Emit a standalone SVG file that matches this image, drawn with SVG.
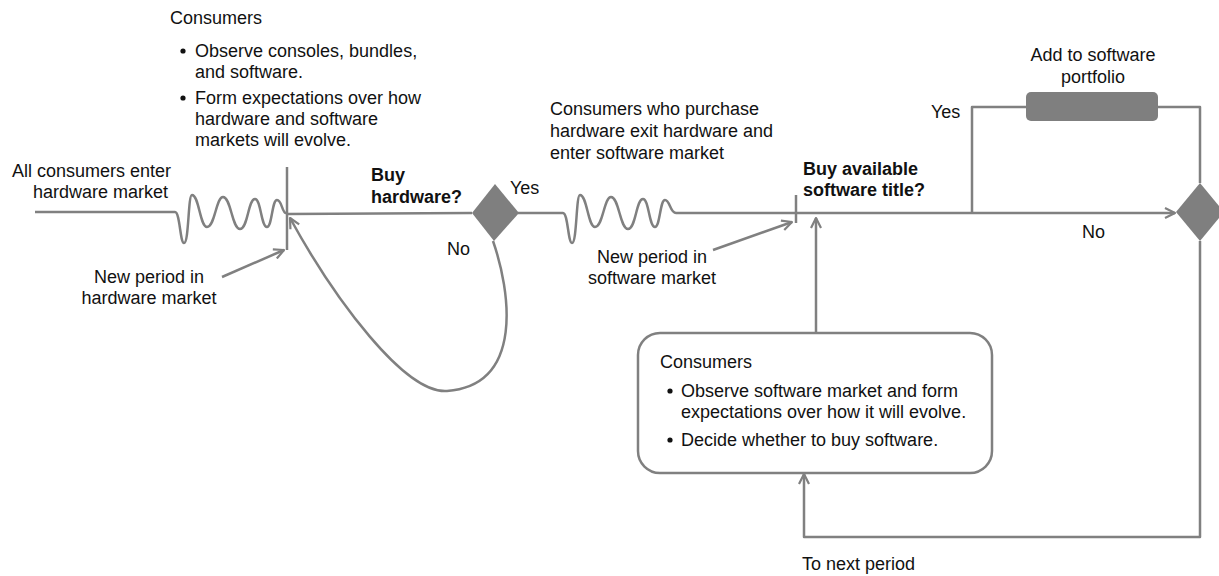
<svg xmlns="http://www.w3.org/2000/svg" width="1219" height="576" viewBox="0 0 1219 576">
  <style>
    .ln { fill: none; stroke: #808080; stroke-width: 2.5; stroke-linejoin: round; }
    .t { font-family: "Liberation Sans", Arial, Helvetica, sans-serif; font-size: 18px; fill: #111; }
    .b { font-weight: bold; }
    .dot { fill: #111; }
    .shape { fill: #7f7f7f; }
    .box { fill: #fff; stroke: #808080; stroke-width: 2.5; }
  </style>
  <defs>
    <marker id="arrow" viewBox="0 0 12 12" refX="11" refY="6" markerWidth="12" markerHeight="12" markerUnits="userSpaceOnUse" orient="auto">
      <path d="M1,1 L11,6 L1,11" fill="none" stroke="#808080" stroke-width="2.2" stroke-linejoin="round"/>
    </marker>
  </defs>
  <rect width="1219" height="576" fill="#fff"/>

  <!-- connectors -->
  <g id="connectors">
    <!-- entry into hardware market with delay squiggle -->
    <path class="ln" d="M35,212 H175 C180,212 180,243 184,243 C189,243 188,195 192,195 C199,195 200,227 207,227 C215,227 216,197 223,197 C231,197 232,229 240,229 C248,229 248,199 255,199 C261,199 261,227 267,227 C272,227 272,200 277,200 C282,200 282,213 286,213"/>
    <!-- hardware period tick -->
    <path class="ln" d="M287,167 V250"/>
    <!-- to buy-hardware decision -->
    <path class="ln" d="M287,214 L472,213"/>
    <!-- new period in hardware market -->
    <path class="ln" d="M222,277 L284,250" marker-end="url(#arrow)"/>
    <!-- no: loop back to hardware market -->
    <path class="ln" d="M493,241 C510,290 525,385 447,391 C405,394 335,300 290,218" marker-end="url(#arrow)"/>
    <!-- yes: into software market with delay squiggle -->
    <path class="ln" d="M518,213 H563 C568,213 568,243 572,243 C577,243 576,195 580,195 C587,195 588,227 595,227 C603,227 604,197 611,197 C619,197 620,229 628,229 C636,229 636,199 643,199 C649,199 649,227 655,227 C660,227 660,200 665,200 C670,200 670,213 676,213 H1175" marker-end="url(#arrow)"/>
    <!-- software period tick -->
    <path class="ln" d="M796,195 V223"/>
    <!-- new period in software market -->
    <path class="ln" d="M713,250 L792,222" marker-end="url(#arrow)"/>
    <!-- consumer box up to software decision -->
    <path class="ln" d="M816,333 V218" marker-end="url(#arrow)"/>
    <!-- yes branch via portfolio -->
    <path class="ln" d="M972,213 V107 H1026"/>
    <path class="ln" d="M1158,107 H1200 V183"/>
    <!-- to next period -->
    <path class="ln" d="M1200,241 V537 H804 V474" marker-end="url(#arrow)"/>
  </g>

  <!-- hardware decision -->
  <g id="hw-decision">
    <polygon class="shape" points="472,213 495,184 519,213 494,241"/>
    <text class="t b" x="371" y="181">Buy</text>
    <text class="t b" x="371" y="203">hardware?</text>
  </g>

  <!-- software decision -->
  <g id="sw-decision">
    <polygon class="shape" points="1176,212 1200,183 1224,212 1200,241"/>
    <text class="t b" x="803" y="175">Buy available</text>
    <text class="t b" x="803" y="196">software title?</text>
  </g>

  <!-- portfolio step -->
  <g id="portfolio">
    <rect class="shape" x="1026" y="92" width="132" height="29" rx="5"/>
    <text class="t" x="1093" y="61" text-anchor="middle">Add to software</text>
    <text class="t" x="1093" y="83" text-anchor="middle">portfolio</text>
  </g>

  <!-- hardware market consumers -->
  <g id="hw-consumers">
    <text class="t" x="170" y="24">Consumers</text>
    <circle class="dot" cx="183" cy="51" r="2.6"/>
    <text class="t" x="195" y="57">Observe consoles, bundles,</text>
    <text class="t" x="195" y="78">and software.</text>
    <circle class="dot" cx="183" cy="98" r="2.6"/>
    <text class="t" x="195" y="104">Form expectations over how</text>
    <text class="t" x="195" y="125">hardware and software</text>
    <text class="t" x="195" y="146">markets will evolve.</text>
  </g>

  <!-- software market consumers -->
  <g id="sw-consumers">
    <rect class="box" x="638" y="333" width="354" height="140" rx="22"/>
    <text class="t" x="660" y="368">Consumers</text>
    <circle class="dot" cx="670" cy="391" r="2.6"/>
    <text class="t" x="681" y="397">Observe software market and form</text>
    <text class="t" x="681" y="418">expectations over how it will evolve.</text>
    <circle class="dot" cx="670" cy="440" r="2.6"/>
    <text class="t" x="681" y="446">Decide whether to buy software.</text>
  </g>

  <!-- labels -->
  <g id="labels">
    <text class="t" x="12" y="177">All consumers enter</text>
    <text class="t" x="33" y="198">hardware market</text>
    <text class="t" x="149" y="283" text-anchor="middle">New period in</text>
    <text class="t" x="149" y="304" text-anchor="middle">hardware market</text>
    <text class="t" x="510" y="194">Yes</text>
    <text class="t" x="447" y="255">No</text>
    <text class="t" x="550" y="115">Consumers who purchase</text>
    <text class="t" x="550" y="137">hardware exit hardware and</text>
    <text class="t" x="550" y="159">enter software market</text>
    <text class="t" x="652" y="263" text-anchor="middle">New period in</text>
    <text class="t" x="652" y="284" text-anchor="middle">software market</text>
    <text class="t" x="931" y="118">Yes</text>
    <text class="t" x="1082" y="238">No</text>
    <text class="t" x="802" y="570">To next period</text>
  </g>
</svg>
